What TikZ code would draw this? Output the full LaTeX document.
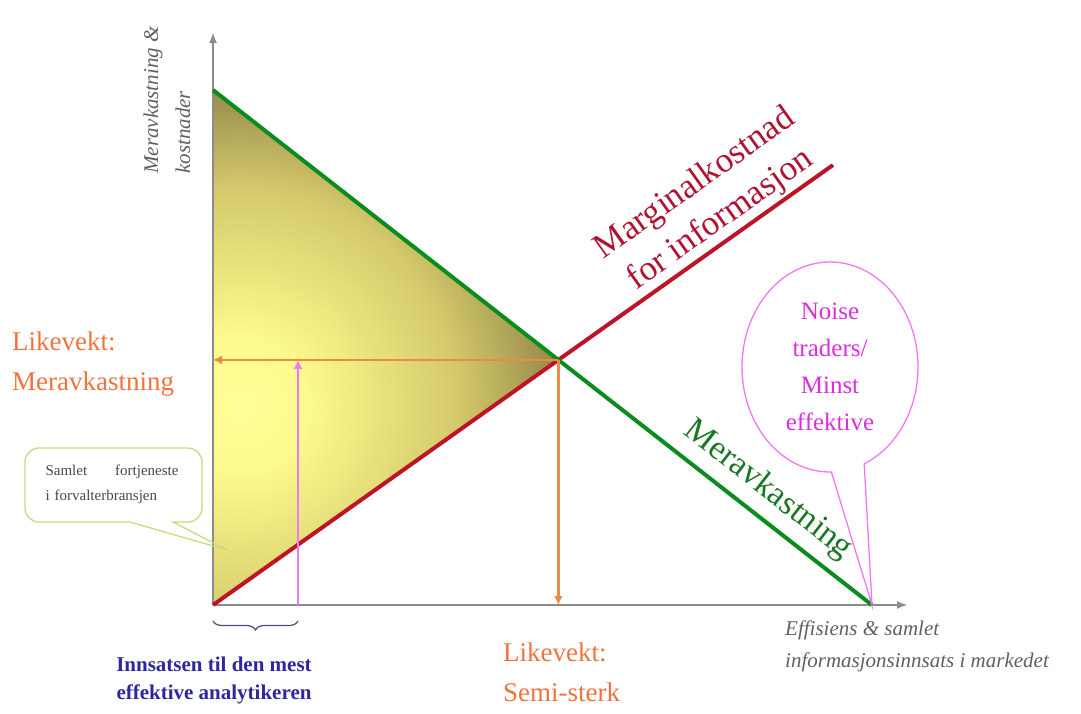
\documentclass[tikz,border=0pt]{standalone}
\usepackage{fontspec}
\setmainfont{Liberation Serif}
\usetikzlibrary{arrows.meta,shapes.callouts,decorations.pathreplacing}
\definecolor{axisgray}{RGB}{140,140,140}
\definecolor{labgray}{RGB}{95,95,100}
\definecolor{grn}{RGB}{10,140,30}
\definecolor{grntext}{RGB}{25,120,35}
\definecolor{redl}{RGB}{190,20,40}
\definecolor{redtext}{RGB}{175,20,50}
\definecolor{orl}{RGB}{235,140,70}
\definecolor{ortext}{RGB}{240,115,60}
\definecolor{magl}{RGB}{240,120,240}
\definecolor{magtext}{RGB}{220,45,220}
\definecolor{bluetext}{RGB}{45,40,160}
\definecolor{bracecol}{RGB}{70,80,120}
\definecolor{calloutl}{RGB}{205,215,130}
\definecolor{callouttext}{RGB}{70,70,80}
\pgfdeclareradialshading{glow}{\pgfpoint{0bp}{0bp}}{rgb(0bp)=(1,1,0.6); rgb(5bp)=(0.99,0.98,0.55); rgb(16bp)=(0.83,0.79,0.42); rgb(24bp)=(0.57,0.52,0.28); rgb(31bp)=(0.40,0.37,0.19); rgb(50bp)=(0.40,0.37,0.19)}
\begin{document}
\begin{tikzpicture}[x=1pt,y=-1pt,
  axis/.style={draw=axisgray, line width=2pt, -{Latex[length=11pt,width=8pt]}},
  grline/.style={draw=grn, line width=4pt},
  rdline/.style={draw=redl, line width=4pt},
  orarrow/.style={draw=orl, line width=2.5pt, -{Latex[length=9pt,width=9pt]}},
  mgarrow/.style={draw=magl, line width=2.5pt, -{Latex[length=9pt,width=9pt]}},
  orlabel/.style={inner sep=0pt, text=ortext, align=left, font=\fontsize{27}{40}\selectfont},
  axlabel/.style={inner sep=0pt, text=labgray, align=left, font=\itshape\fontsize{21}{32}\selectfont},
]
\useasboundingbox (0,0) rectangle (1081,713);
\coordinate (O) at (213,605);
\coordinate (Ytop) at (213,32);
\coordinate (Xend) at (908,605);
\coordinate (G0) at (213,90);
\coordinate (G1) at (872,605);
\coordinate (R1) at (833,165);
\coordinate (E) at (intersection of G0--G1 and O--R1);
\coordinate (P) at (298,605);
\coordinate (BL) at (213,621);
\coordinate (BR) at (298,621);
\coordinate (tipS) at (227,550);

% shaded triangle
\begin{scope}
  \clip (G0) -- (E) -- (O) -- cycle;
  \shade[shading=glow] (-100,65) rectangle (580,745);
\end{scope}

% axes
\draw[axis] (O) -- (Ytop);
\draw[axis] (O) -- (Xend);

% lines
\draw[rdline] (O) -- (R1);
\draw[grline] (G0) -- (G1);

% equilibrium arrows
\draw[orarrow] (E) -- (E -| O);
\draw[orarrow] (E) -- (E |- O);
\draw[mgarrow] (P) -- (P |- E);

% brace
\draw[draw=bracecol, line width=1.2pt, decorate, decoration={brace, amplitude=9pt, mirror}] (BL) -- (BR);

% labels
\node[axlabel, rotate=90, anchor=west] (ylab) at (167,174) {Meravkastning \&\\kostnader};
\node[axlabel, anchor=west] (xlab) at (785,646) {Effisiens \& samlet\\informasjonsinnsats i markedet};

\node[orlabel, anchor=west] (lmer) at (12,364) {Likevekt:\\Meravkastning};
\node[orlabel, anchor=west] (lsemi) at (503,672) {Likevekt:\\Semi-sterk};

\node[inner sep=0pt, text=bluetext, align=center, font=\bfseries\fontsize{21}{28}\selectfont] (innsats) at (214,680) {Innsatsen til den mest\\effektive analytikeren};

\node[inner sep=0pt, text=redtext, align=center, rotate=35.4, font=\fontsize{35}{44}\selectfont] (marg) at (708,202) {Marginalkostnad\\for informasjon};
\node[inner sep=0pt, text=grntext, rotate=-38, font=\fontsize{34}{40}\selectfont] (merav) at (768,490) {Meravkastning};

% noise traders callout
\node[ellipse callout, draw=magl, line width=1.3pt, minimum width=176pt, minimum height=210pt,
      callout absolute pointer={(G1)}, callout pointer arc=22, inner sep=0pt,
      text=magtext, align=center, font=\fontsize{25}{37}\selectfont] (noise) at (830,367)
      {Noise\\traders/\\Minst\\effektive};

% samlet fortjeneste callout
\draw[draw=calloutl, line width=1.3pt] (130,522) [rounded corners=14pt] -- (25,522) -- (25,448) -- (202,448) -- (202,522) [sharp corners] -- (173,522) -- (tipS) -- cycle;
\node[inner sep=0pt, text width=133pt, align=left, text=callouttext, font=\fontsize{15}{25}\selectfont] (samlet) at (112,484) {Samlet\hfill fortjeneste\\i forvalterbransjen};
\end{tikzpicture}
\end{document}
